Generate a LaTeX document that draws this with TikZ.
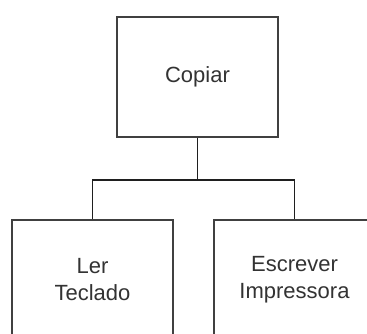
\documentclass[tikz,border=0pt]{standalone}
\usepackage{fontspec}
\setmainfont{Liberation Sans}
\begin{document}
\begin{tikzpicture}[x=1pt,y=1pt,
  modbox/.style={draw=black!75, line width=2pt, fill=white,
    minimum width=161pt, minimum height=120pt, inner sep=0pt,
    align=center, text=black!80, font=\fontsize{22}{27}\selectfont},
  link/.style={draw=black!88, line width=1.8pt}]
  \useasboundingbox (0,0) rectangle (367,-334);
  \clip (0,0) rectangle (367,-334);
  \fill[white] (0,0) rectangle (367,-334);
  % module boxes
  \node[modbox] (copiar) at (197.5,-77) {Copiar};
  \node[modbox] (ler) at (92.5,-280) {Ler\\Teclado};
  \node[modbox] (escrever) at (294.5,-280) {Escrever\\Impressora};
  % tree connectors
  \coordinate (junc) at (197.5,-180);
  \draw[link] (copiar.south) -- (junc);
  \draw[link] (ler.north) |- (junc) -| (escrever.north);
\end{tikzpicture}
\end{document}
